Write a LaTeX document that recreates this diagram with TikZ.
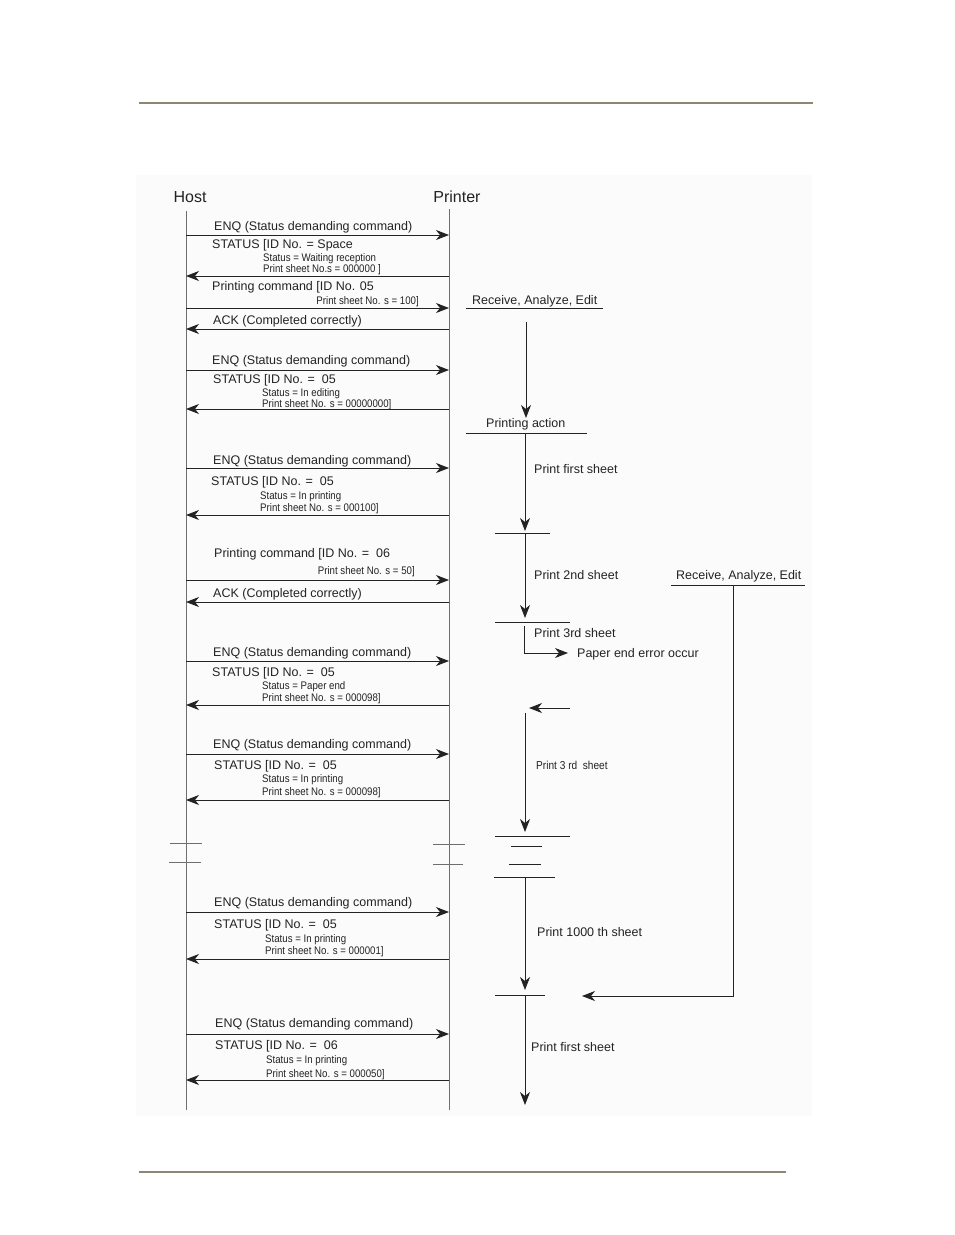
\documentclass[tikz,border=0pt]{standalone}
\usepackage{fontspec}
\setmainfont{Liberation Sans}
\newfontfamily\narrowfont[FakeStretch=0.88]{Liberation Sans}
\usetikzlibrary{arrows.meta}
\definecolor{rulecol}{RGB}{140,135,115}
\definecolor{inkcol}{RGB}{35,35,35}
\definecolor{lifecol}{RGB}{110,110,110}

\begin{document}
\begin{tikzpicture}[x=1pt,y=-1pt]
\useasboundingbox (0,0) rectangle (954,1235);
\fill [black!1.5] (136,175) rectangle (812,1116);
\draw [rulecol,line width=2pt] (139,103) -- (813,103);
\draw [rulecol,line width=2pt] (139,1172) -- (786,1172);

% lifelines
\coordinate (host top) at (186,211);
\coordinate (host end) at (186,1110);
\coordinate (prn top) at (449,209);
\coordinate (prn end) at (449,1110);
\draw [lifecol,line width=0.8pt] (host top) -- (host end);
\draw [lifecol,line width=0.8pt] (prn top) -- (prn end);
% break marks
\draw [lifecol,line width=0.8pt] (170,843) -- (202,843) (169,862) -- (201,862);
\draw [lifecol,line width=0.8pt] (433,844) -- (465,844) (433,864) -- (463,864);

\foreach \m/\y in {1/235,2/276,3/308,4/329,5/370,6/409,7/468,8/515,9/580,
                   10/602,11/661,12/705,13/754,14/800,15/912,16/959,17/1034,18/1080}
{
    \coordinate (h\m) at (186,\y);
    \coordinate (p\m) at (449,\y);
}

\begin{scope}[every node/.style={inner sep=0pt,text=inkcol},
              head/.style={anchor=base,font=\fontsize{16}{18}\selectfont},
              big/.style={anchor=base west,font=\fontsize{12.5}{14}\selectfont},
              small/.style={anchor=base west,font=\narrowfont\fontsize{11}{12}\selectfont}]
    \node [head] (host) at (190,202) {Host};
    \node [head] (printer) at (457,202) {Printer};
    \node [big] (enq1) at (214,230) {ENQ (Status demanding command)};
    \node [big] (st2) at (212,248) {STATUS [ID No. = Space};
    \node [small] (st2a) at (263,261) {Status = Waiting reception};
    \node [small] (st2b) at (263,272) {Print sheet No.s = 000000 ]};
    \node [big] (pc3) at (212,290) {Printing command [ID No. 05};
    \node [small,anchor=base east] (pc3a) at (419,304) {Print sheet No. s = 100]};
    \node [big] (ack4) at (213,324) {ACK (Completed correctly)};
    \node [big] (enq5) at (212,364) {ENQ (Status demanding command)};
    \node [big] (st6) at (213,383) {STATUS [ID No. =\ \ 05};
    \node [small] (st6a) at (262,396) {Status = In editing};
    \node [small] (st6b) at (262,407) {Print sheet No. s = 00000000]};
    \node [big] (enq7) at (213,464) {ENQ (Status demanding command)};
    \node [big] (st8) at (211,485) {STATUS [ID No. =\ \ 05};
    \node [small] (st8a) at (260,499) {Status = In printing};
    \node [small] (st8b) at (260,511) {Print sheet No. s = 000100]};
    \node [big] (pc9) at (214,557) {Printing command [ID No. =\ \ 06};
    \node [small,anchor=base east] (pc9a) at (415,574) {Print sheet No. s = 50]};
    \node [big] (ack10) at (213,597) {ACK (Completed correctly)};
    \node [big] (enq11) at (213,656) {ENQ (Status demanding command)};
    \node [big] (st12) at (212,676) {STATUS [ID No. =\ \ 05};
    \node [small] (st12a) at (262,689) {Status = Paper end};
    \node [small] (st12b) at (262,701) {Print sheet No. s = 000098]};
    \node [big] (enq13) at (213,748) {ENQ (Status demanding command)};
    \node [big] (st14) at (214,769) {STATUS [ID No. =\ \ 05};
    \node [small] (st14a) at (262,782) {Status = In printing};
    \node [small] (st14b) at (262,795) {Print sheet No. s = 000098]};
    \node [big] (enq15) at (214,906) {ENQ (Status demanding command)};
    \node [big] (st16) at (214,928) {STATUS [ID No. =\ \ 05};
    \node [small] (st16a) at (265,942) {Status = In printing};
    \node [small] (st16b) at (265,954) {Print sheet No. s = 000001]};
    \node [big] (enq17) at (215,1027) {ENQ (Status demanding command)};
    \node [big] (st18) at (215,1049) {STATUS [ID No. =\ \ 06};
    \node [small] (st18a) at (266,1063) {Status = In printing};
    \node [small] (st18b) at (266,1077) {Print sheet No. s = 000050]};
    % printer side
    \node [big] (rae1) at (472,304) {Receive, Analyze, Edit};
    \node [big] (act) at (486,427) {Printing action};
    \node [big] (sheet1) at (534,473) {Print first sheet};
    \node [big] (sheet2) at (534,579) {Print 2nd sheet};
    \node [big] (sheet3) at (534,637) {Print 3rd sheet};
    \node [big] (paperend) at (577,657) {Paper end error occur};
    \node [big] (rae2) at (676,579) {Receive, Analyze, Edit};
    \node [small,font=\narrowfont\fontsize{11.5}{13}\selectfont] (sheet3b) at (536,769) {Print 3 rd\ \ sheet};
    \node [big] (sheet1000) at (537,936) {Print 1000 th sheet};
    \node [big] (sheet1b) at (531,1051) {Print first sheet};
\end{scope}

% bars on the printer side
\begin{scope}[inkcol,line width=0.9pt]
    \draw (466,308) -- (603,308);
    \draw (466,433) -- (587,433);
    \draw (495,533) -- (550,533);
    \draw (495,622) -- (570,622);
    \draw (671,585) -- (805,585);
    \draw (495,836) -- (570,836);
    \draw (511,846) -- (542,846);
    \draw (509,864) -- (541,864);
    \draw (494,877) -- (555,877);
    \draw (495,995) -- (545,995);
\end{scope}

\coordinate (f1a) at (526,322);  \coordinate (f1b) at (526,418);
\coordinate (f2a) at (525,433);  \coordinate (f2b) at (525,531);
\coordinate (f3a) at (525,533);  \coordinate (f3b) at (525,618);
\coordinate (f4a) at (524,626);  \coordinate (f4b) at (568,653);
\coordinate (f5a) at (570,708);  \coordinate (f5b) at (529,708);
\coordinate (f6a) at (525,713);  \coordinate (f6b) at (525,832);
\coordinate (f7a) at (525,877);  \coordinate (f7b) at (525,990);
\coordinate (f8a) at (525,995);  \coordinate (f8b) at (525,1105);
\coordinate (g1a) at (733,585);  \coordinate (g1b) at (582,996);

\begin{scope}[>={Stealth[length=13pt,width=10pt,inset=4pt]},
              msg/.style={draw=inkcol,line width=0.9pt},
              flow/.style={draw=inkcol,line width=0.9pt}]
    \path [->] (h1) edge [msg] (p1);
    \path [->] (p2) edge [msg] (h2);
    \path [->] (h3) edge [msg] (p3);
    \path [->] (p4) edge [msg] (h4);
    \path [->] (h5) edge [msg] (p5);
    \path [->] (p6) edge [msg] (h6);
    \path [->] (h7) edge [msg] (p7);
    \path [->] (p8) edge [msg] (h8);
    \path [->] (h9) edge [msg] (p9);
    \path [->] (p10) edge [msg] (h10);
    \path [->] (h11) edge [msg] (p11);
    \path [->] (p12) edge [msg] (h12);
    \path [->] (h13) edge [msg] (p13);
    \path [->] (p14) edge [msg] (h14);
    \path [->] (h15) edge [msg] (p15);
    \path [->] (p16) edge [msg] (h16);
    \path [->] (h17) edge [msg] (p17);
    \path [->] (p18) edge [msg] (h18);
    \path [->] (f1a) edge [flow] (f1b);
    \path [->] (f2a) edge [flow] (f2b);
    \path [->] (f3a) edge [flow] (f3b);
    \draw [->,flow] (f4a) |- (f4b);
    \path [->] (f5a) edge [flow] (f5b);
    \path [->] (f6a) edge [flow] (f6b);
    \path [->] (f7a) edge [flow] (f7b);
    \path [->] (f8a) edge [flow] (f8b);
    \draw [->,flow] (g1a) |- (g1b);
\end{scope}
\end{tikzpicture}
\end{document}
